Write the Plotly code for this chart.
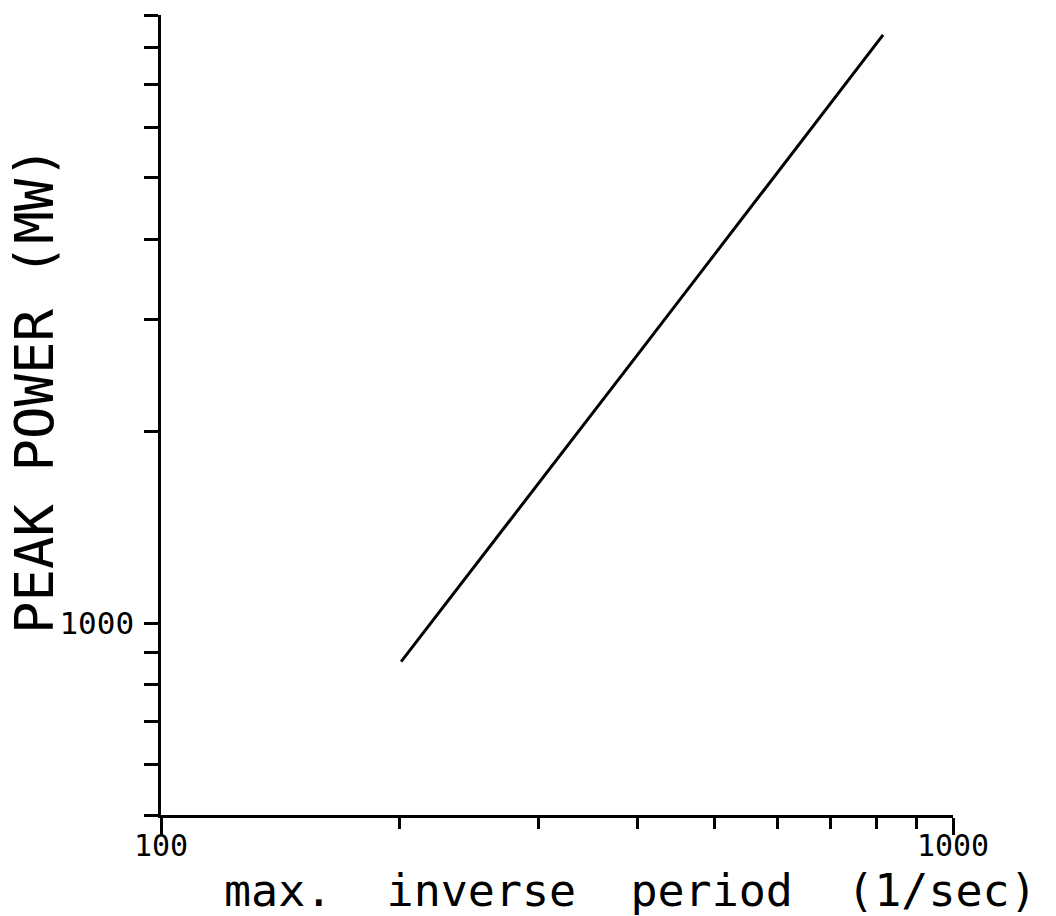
import plotly.graph_objects as go

# Data (log-log)
inverse_period = [201, 300, 400, 500, 600, 700, 816]          # 1/sec
peak_power = [870, 1656, 2641, 3789, 5089, 6536, 8375]         # MW

x_major_ticks = [100, 1000]
x_major_labels = ["100", "1000"]
x_minor_ticks = [200, 300, 400, 500, 600, 700, 800, 900]

y_ticks = [500, 600, 700, 800, 900, 1000, 2000, 3000, 4000, 5000, 6000, 7000, 8000, 9000]
y_labels = ["", "", "", "", "", "1000", "", "", "", "", "", "", "", ""]

x_title = "max.\u00a0 inverse\u00a0 period\u00a0 (1/sec)"
y_title = "PEAK POWER (MW)"

FONT = "DejaVu Sans Mono"

fig = go.Figure()
fig.add_trace(go.Scatter(
    x=inverse_period, y=peak_power, mode="lines",
    line=dict(color="black", width=3), showlegend=False, hoverinfo="skip",
))

fig.update_layout(
    width=1056, height=916,
    margin=dict(l=161, r=103, t=15, b=101),
    paper_bgcolor="white", plot_bgcolor="white",
    font=dict(family=FONT, color="black"),
    xaxis=dict(
        type="log", range=[2, 3], showgrid=False, zeroline=False,
        showline=True, linecolor="black", linewidth=2.5,
        ticks="outside", ticklen=17, tickwidth=2.5, tickcolor="black",
        tickvals=x_major_ticks, ticktext=x_major_labels,
        tickfont=dict(family=FONT, size=30, color="black"),
        ticklabelstandoff=-15,
        minor=dict(tickvals=x_minor_ticks, ticks="outside", ticklen=11,
                   tickwidth=2.5, tickcolor="black", showgrid=False),
        fixedrange=True,
    ),
    yaxis=dict(
        type="log", range=[2.69897, 3.95424], showgrid=False, zeroline=False,
        showline=True, linecolor="black", linewidth=2.5,
        ticks="outside", ticklen=14, tickwidth=2.5, tickcolor="black",
        tickvals=y_ticks, ticktext=y_labels,
        tickfont=dict(family=FONT, size=31, color="black"),
        ticklabelstandoff=4,
        fixedrange=True,
    ),
    annotations=[
        dict(text=x_title, xref="paper", yref="paper",
             x=(630 - 161) / 792, y=(815 - 890) / 800,
             xanchor="center", yanchor="middle", showarrow=False,
             font=dict(family=FONT, size=45, color="black")),
        dict(text=y_title, xref="paper", yref="paper",
             x=(34 - 161) / 792, y=(815 - 390) / 800,
             xanchor="center", yanchor="middle", textangle=-90, showarrow=False,
             font=dict(family=FONT, size=54, color="black")),
    ],
)

fig.write_html("out.html")
